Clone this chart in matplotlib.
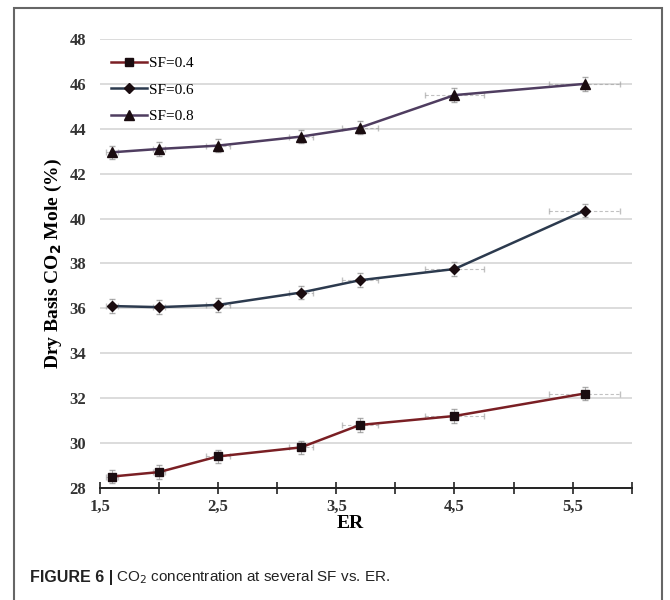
import matplotlib.pyplot as plt
import numpy as np
from matplotlib.patches import Rectangle

er = [1.6, 2.0, 2.5, 3.2, 3.7, 4.5, 5.6]
sf04 = [28.5, 28.7, 29.4, 29.8, 30.8, 31.2, 32.2]
sf06 = [36.1, 36.05, 36.15, 36.7, 37.25, 37.75, 40.35]
sf08 = [42.95, 43.1, 43.25, 43.65, 44.05, 45.5, 46.0]
yerr = [0.3, 0.3, 0.3, 0.3, 0.3, 0.3, 0.3]
xerr = [0.05, 0.05, 0.1, 0.1, 0.15, 0.25, 0.3]
labels = ["SF=0.4", "SF=0.6", "SF=0.8"]
series = [sf04, sf06, sf08]
line_cols = ["#7a1f24", "#2c3a4e", "#4f3d60"]
markers = ["s", "D", "^"]
msizes = [6, 5, 7]

xticks = [1.5, 2.0, 2.5, 3.0, 3.5, 4.0, 4.5, 5.0, 5.5, 6.0]
xticklabels = ["1,5", "", "2,5", "", "3,5", "", "4,5", "", "5,5", ""]
yticks = [28, 30, 32, 34, 36, 38, 40, 42, 44, 46, 48]

plt.rcParams['font.family'] = ['Liberation Serif', 'DejaVu Serif']

fig = plt.figure(figsize=(6.7, 6.0), dpi=100)
ax = fig.add_axes([0.149, 0.187, 0.794, 0.748])

for y, lab, c, m, ms in zip(series, labels, line_cols, markers, msizes):
    # faint dashed horizontal error bars
    eb = ax.errorbar(er, y, xerr=xerr, fmt="none", ecolor="#999999", elinewidth=0.8,
                     capsize=2, alpha=0.6)
    eb[2][0].set_linestyle((0, (3, 2)))
    ax.errorbar(er, y, yerr=yerr, fmt="none", ecolor="#888888", elinewidth=0.7,
                capsize=2, alpha=0.7)
    ax.plot(er, y, color=c, lw=1.8, marker=m, ms=ms, mfc="#1a0c10", mec="#1a0c10",
            label=lab, zorder=3)

ax.set_xlim(1.5, 6.0)
ax.set_ylim(28, 48)
ax.set_xticks(xticks)
ax.set_xticklabels(xticklabels, fontsize=12, fontweight="bold", color="#333333")
ax.set_yticks(yticks)
ax.set_yticklabels([str(v) for v in yticks], fontsize=12, fontweight="bold", color="#333333")
ax.tick_params(axis="x", direction="inout", length=8, width=1.2, color="#222222", pad=4)
ax.tick_params(axis="y", length=0, pad=10)
ax.grid(axis="y", color="#d6d6d6", lw=1.2)
ax.set_axisbelow(True)
for s in ["top", "right", "left"]:
    ax.spines[s].set_visible(False)
ax.spines["bottom"].set_color("#222222")
ax.spines["bottom"].set_linewidth(1.4)

ax.set_xlabel("ER", fontsize=14, fontweight="bold", labelpad=0, x=0.47)
ax.set_ylabel("Dry Basis CO$_\\mathbf{2}$ Mole (%)", fontsize=14, fontweight="bold", labelpad=4)

leg = ax.legend(loc="upper left", bbox_to_anchor=(0.0, 0.985), frameon=False, fontsize=11,
                handlelength=2.4, handletextpad=0.1, labelspacing=0.85, borderaxespad=0.3)

# frame around the figure panel
fig.patches.append(Rectangle((14 / 670, -0.05), 648 / 670, 1.05 - 8 / 600, transform=fig.transFigure,
                             fill=False, edgecolor="#666666", lw=1.5))

fig.text(30 / 670, 0.038, "FIGURE 6 |", fontsize=11.5, fontweight="bold",
         family=["Liberation Sans", "DejaVu Sans"], color="#222222", va="center")
fig.text(116 / 670, 0.038, "CO$_2$ concentration at several SF vs. ER.", fontsize=11,
         family=["Liberation Sans", "DejaVu Sans"], color="#222222", va="center")

fig.savefig("out.png", dpi=100)
